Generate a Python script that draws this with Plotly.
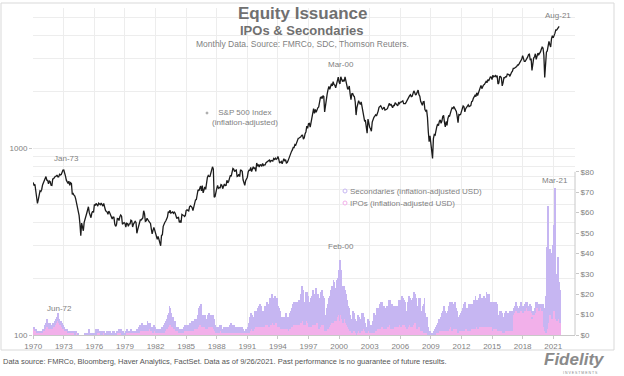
import plotly.graph_objects as go

# ---------------- data ----------------
# S&P 500 index, inflation-adjusted, monthly Jan-1970 .. Aug-2021
SP500 = [
    655, 630, 640, 600, 540, 505, 530, 560, 590, 585, 600, 635,
    652, 657, 680, 703, 673, 672, 643, 665, 660, 632, 630, 683,
    686, 702, 705, 706, 717, 700, 700, 723, 718, 722, 753, 761,
    762, 714, 708, 673, 655, 646, 664, 632, 652, 646, 565, 571,
    560, 553, 535, 508, 487, 476, 436, 393, 340, 397, 372, 361,
    400, 422, 429, 448, 466, 485, 451, 440, 424, 449, 459, 452,
    499, 492, 505, 498, 489, 507, 501, 497, 507, 494, 489, 505,
    477, 465, 457, 455, 442, 460, 451, 440, 437, 417, 427, 426,
    392, 381, 389, 420, 419, 409, 429, 438, 432, 391, 396, 399,
    395, 378, 396, 394, 381, 393, 393, 411, 408, 378, 392, 396,
    405, 400, 350, 366, 381, 389, 412, 412, 419, 423, 462, 446,
    405, 408, 421, 409, 406, 400, 396, 369, 347, 363, 376, 364,
    351, 329, 325, 337, 323, 315, 300, 341, 343, 381, 395, 401,
    407, 414, 427, 457, 450, 465, 448, 452, 455, 447, 454, 449,
    438, 420, 425, 426, 400, 406, 399, 441, 438, 437, 430, 435,
    463, 467, 464, 461, 485, 490, 487, 480, 463, 482, 512, 528,
    530, 567, 598, 590, 620, 626, 589, 630, 576, 607, 619, 601,
    674, 697, 713, 703, 705, 735, 768, 793, 771, 545, 549, 588,
    607, 631, 609, 613, 613, 638, 633, 606, 628, 642, 629, 630,
    672, 651, 662, 692, 714, 706, 767, 777, 770, 748, 758, 763,
    704, 708, 724, 703, 765, 756, 750, 676, 638, 631, 668, 684,
    698, 744, 760, 759, 787, 748, 780, 794, 777, 785, 749, 831,
    805, 811, 792, 813, 812, 797, 827, 806, 812, 812, 835, 842,
    842, 849, 863, 840, 857, 856, 851, 878, 868, 883, 870, 877,
    900, 871, 830, 838, 847, 823, 847, 877, 851, 867, 831, 836,
    856, 885, 906, 928, 959, 977, 1007, 1005, 1043, 1036, 1077, 1096,
    1126, 1131, 1136, 1147, 1170, 1171, 1115, 1134, 1193, 1222, 1309, 1274,
    1348, 1354, 1295, 1369, 1448, 1510, 1626, 1531, 1610, 1553, 1621, 1640,
    1657, 1772, 1859, 1873, 1836, 1907, 1883, 1560, 1706, 1840, 1947, 2053,
    2131, 2061, 2138, 2207, 2148, 2263, 2186, 2166, 2097, 2224, 2264, 2394,
    2252, 2199, 2402, 2319, 2265, 2314, 2270, 2404, 2268, 2254, 2071, 2073,
    2145, 1944, 1816, 1950, 1954, 1903, 1886, 1762, 1500, 1647, 1773, 1789,
    1746, 1707, 1764, 1652, 1635, 1517, 1396, 1400, 1244, 1200, 1427, 1341,
    1292, 1267, 1230, 1375, 1443, 1458, 1480, 1504, 1484, 1564, 1575, 1651,
    1667, 1683, 1648, 1614, 1628, 1655, 1597, 1600, 1612, 1628, 1683, 1733,
    1689, 1718, 1680, 1640, 1688, 1687, 1745, 1720, 1718, 1680, 1744, 1726,
    1760, 1758, 1773, 1786, 1726, 1722, 1728, 1760, 1800, 1853, 1880, 1903,
    1927, 1880, 1890, 1964, 2021, 1981, 1917, 1942, 2007, 2040, 1928, 1894,
    1778, 1710, 1693, 1765, 1771, 1604, 1576, 1600, 1458, 1222, 1080, 1162,
    1065, 940, 880, 1122, 1180, 1172, 1260, 1300, 1345, 1318, 1392, 1413,
    1355, 1393, 1474, 1495, 1372, 1298, 1386, 1320, 1434, 1486, 1481, 1566,
    1595, 1640, 1628, 1665, 1635, 1606, 1568, 1475, 1366, 1511, 1502, 1512,
    1575, 1635, 1679, 1662, 1560, 1623, 1644, 1668, 1700, 1664, 1673, 1685,
    1768, 1781, 1843, 1878, 1914, 1882, 1973, 1910, 1965, 2054, 2113, 2162,
    2077, 2164, 2175, 2185, 2228, 2268, 2234, 2319, 2284, 2339, 2400, 2394,
    2324, 2450, 2404, 2421, 2443, 2390, 2437, 2200, 2225, 2410, 2413, 2372,
    2150, 2237, 2378, 2376, 2406, 2401, 2487, 2478, 2470, 2416, 2496, 2541,
    2575, 2662, 2664, 2684, 2716, 2729, 2780, 2775, 2824, 2884, 2960, 2987,
    3120, 2990, 2903, 2903, 2957, 2965, 3070, 3160, 3172, 2947, 3004, 2600,
    2945, 3026, 3077, 3190, 2976, 3177, 3215, 3155, 3206, 3264, 3374, 3460,
    3425, 3134, 2380, 3108, 3255, 3305, 3480, 3719, 3571, 3470, 3841, 3982,
    3881, 3959, 4100, 4280, 4270, 4340, 4420, 4470,
]

# IPO issuance, inflation-adjusted USD bn, monthly Jan-1970 .. Aug-2021
IPO = [
    3, 2, 2, 2, 1, 1, 1, 1, 1, 1, 1, 2,
    2, 3, 4, 4, 5, 4, 3, 4, 3, 3, 3, 4,
    4, 5, 6, 6, 7, 8, 6, 5, 5, 4, 4, 3,
    3, 2, 2, 2, 1, 1, 1, 1, 1, 1, 1, 1,
    1, 0, 1, 0, 0, 0, 0, 0, 0, 0, 0, 0,
    0, 0, 0, 0, 0, 1, 0, 0, 0, 0, 0, 0,
    0, 1, 0, 1, 1, 1, 1, 0, 1, 0, 1, 1,
    0, 0, 1, 0, 1, 0, 1, 0, 0, 1, 0, 1,
    0, 0, 1, 1, 1, 1, 1, 1, 0, 1, 0, 0,
    0, 1, 1, 1, 1, 1, 1, 1, 1, 1, 1, 1,
    1, 1, 1, 1, 1, 2, 2, 2, 3, 2, 2, 2,
    2, 2, 3, 2, 3, 3, 2, 2, 1, 1, 2, 2,
    1, 1, 1, 1, 1, 1, 1, 1, 1, 1, 2, 2,
    3, 3, 4, 5, 6, 6, 5, 4, 4, 3, 3, 3,
    2, 2, 2, 1, 1, 1, 1, 1, 1, 2, 2, 2,
    2, 2, 2, 2, 2, 2, 3, 3, 2, 3, 3, 3,
    3, 4, 4, 5, 5, 6, 4, 4, 4, 4, 4, 3,
    3, 4, 4, 4, 4, 4, 4, 4, 3, 2, 1, 1,
    1, 1, 1, 2, 2, 2, 1, 1, 1, 1, 1, 1,
    1, 1, 1, 1, 2, 1, 1, 1, 2, 1, 1, 1,
    1, 1, 1, 1, 1, 1, 1, 1, 1, 1, 1, 1,
    1, 1, 2, 2, 3, 3, 2, 3, 3, 4, 4, 4,
    4, 4, 5, 4, 5, 4, 4, 4, 5, 5, 5, 6,
    5, 4, 5, 5, 6, 6, 6, 5, 6, 6, 6, 6,
    4, 4, 4, 3, 3, 3, 3, 3, 3, 4, 3, 3,
    2, 3, 3, 4, 4, 5, 5, 5, 5, 5, 5, 5,
    5, 5, 6, 6, 8, 7, 5, 5, 6, 7, 7, 6,
    4, 4, 5, 4, 5, 6, 5, 5, 6, 7, 6, 6,
    3, 4, 5, 6, 6, 5, 5, 2, 2, 3, 3, 4,
    4, 5, 6, 6, 6, 9, 8, 7, 7, 9, 10, 12,
    7, 10, 12, 8, 6, 8, 8, 7, 6, 5, 4, 3,
    2, 2, 2, 1, 2, 3, 2, 1, 0, 1, 2, 2,
    1, 2, 3, 2, 3, 3, 2, 1, 1, 1, 2, 2,
    1, 1, 1, 1, 2, 1, 2, 2, 3, 3, 3, 4,
    3, 4, 4, 4, 3, 4, 4, 3, 4, 4, 5, 5,
    3, 3, 4, 3, 4, 4, 4, 4, 4, 4, 5, 5,
    4, 4, 5, 5, 5, 5, 4, 3, 4, 4, 6, 5,
    4, 4, 5, 5, 6, 6, 6, 3, 4, 5, 5, 4,
    2, 2, 2, 1, 2, 1, 1, 1, 0, 0, 0, 0,
    0, 0, 0, 0, 0, 0, 1, 1, 1, 2, 2, 2,
    2, 2, 2, 3, 2, 3, 2, 2, 2, 3, 4, 4,
    2, 3, 3, 3, 4, 3, 3, 1, 1, 2, 2, 3,
    2, 2, 3, 2, 6, 3, 3, 2, 3, 3, 2, 3,
    3, 3, 3, 3, 4, 4, 4, 3, 4, 5, 4, 4,
    4, 4, 4, 4, 4, 5, 5, 4, 6, 4, 4, 4,
    2, 3, 3, 3, 3, 3, 3, 2, 2, 2, 2, 2,
    1, 1, 1, 2, 2, 2, 2, 2, 2, 2, 2, 2,
    10, 11, 11, 12, 13, 12, 11, 11, 12, 12, 13, 12,
    11, 12, 12, 13, 14, 13, 12, 12, 13, 12, 11, 8,
    10, 10, 11, 13, 14, 14, 13, 12, 13, 13, 12, 12,
    4, 5, 2, 1, 3, 6, 10, 10, 12, 10, 8, 12,
    14, 16, 12, 8, 7, 10, 8, 6,
]

# Secondary issuance, inflation-adjusted USD bn, monthly Jan-1970 .. Aug-2021
SEC = [
    1, 1, 1, 1, 1, 1, 0, 1, 1, 1, 1, 1,
    1, 2, 2, 2, 3, 2, 2, 2, 2, 1, 2, 2,
    2, 2, 2, 2, 2, 3, 2, 2, 2, 2, 2, 2,
    1, 1, 1, 1, 1, 1, 1, 1, 1, 1, 1, 1,
    1, 1, 1, 0, 1, 0, 0, 0, 0, 0, 0, 0,
    1, 1, 1, 1, 1, 2, 1, 1, 1, 1, 1, 1,
    1, 2, 2, 1, 2, 1, 1, 1, 1, 1, 1, 1,
    1, 1, 1, 1, 1, 1, 1, 1, 1, 1, 1, 1,
    1, 1, 1, 1, 2, 1, 1, 2, 1, 1, 1, 1,
    1, 1, 2, 1, 1, 1, 1, 2, 1, 1, 1, 1,
    1, 2, 1, 2, 3, 3, 3, 4, 3, 3, 3, 3,
    3, 3, 4, 3, 3, 3, 2, 2, 2, 2, 3, 2,
    2, 2, 2, 2, 2, 2, 2, 3, 3, 4, 4, 4,
    4, 5, 6, 6, 8, 7, 6, 5, 5, 4, 4, 4,
    2, 2, 2, 2, 2, 2, 1, 2, 2, 2, 3, 3,
    3, 3, 3, 3, 4, 4, 4, 4, 3, 4, 5, 5,
    5, 6, 7, 8, 9, 9, 6, 6, 6, 6, 6, 5,
    5, 6, 7, 6, 6, 6, 6, 6, 5, 3, 2, 2,
    3, 3, 3, 3, 3, 3, 2, 2, 3, 3, 3, 3,
    3, 3, 3, 4, 4, 3, 3, 4, 3, 3, 3, 3,
    2, 2, 3, 3, 3, 3, 2, 2, 1, 1, 2, 2,
    3, 5, 6, 7, 8, 7, 6, 6, 7, 8, 7, 8,
    9, 10, 10, 8, 9, 8, 8, 8, 9, 9, 10, 10,
    10, 11, 13, 11, 12, 14, 12, 12, 13, 12, 12, 12,
    10, 9, 8, 6, 6, 6, 6, 6, 6, 7, 6, 6,
    6, 6, 8, 8, 9, 10, 11, 11, 11, 11, 11, 11,
    12, 12, 14, 14, 16, 15, 11, 11, 13, 14, 14, 13,
    12, 12, 13, 12, 14, 16, 15, 15, 17, 16, 14, 14,
    13, 14, 16, 16, 15, 14, 13, 6, 8, 10, 12, 14,
    14, 14, 16, 18, 17, 18, 18, 15, 16, 18, 18, 20,
    18, 27, 20, 16, 14, 16, 14, 15, 14, 12, 10, 10,
    8, 6, 6, 6, 10, 8, 6, 4, 2, 6, 8, 7,
    7, 6, 8, 8, 8, 6, 4, 3, 3, 4, 6, 5,
    4, 4, 4, 6, 9, 10, 8, 8, 10, 10, 10, 11,
    10, 12, 12, 10, 8, 10, 9, 7, 10, 10, 12, 12,
    10, 11, 11, 9, 10, 10, 10, 9, 10, 10, 12, 12,
    12, 12, 14, 13, 12, 11, 8, 8, 10, 12, 13, 13,
    12, 13, 13, 14, 15, 14, 12, 8, 10, 12, 13, 14,
    10, 10, 12, 14, 16, 10, 8, 8, 4, 2, 2, 2,
    1, 1, 1, 2, 3, 3, 3, 4, 5, 6, 6, 7,
    8, 9, 10, 11, 10, 8, 9, 8, 10, 11, 12, 12,
    12, 13, 12, 12, 12, 10, 9, 5, 5, 7, 8, 8,
    10, 11, 12, 11, 10, 9, 10, 10, 12, 12, 11, 12,
    12, 12, 14, 14, 15, 13, 13, 12, 14, 15, 14, 14,
    14, 14, 15, 14, 14, 16, 15, 12, 14, 12, 12, 12,
    12, 13, 13, 12, 13, 12, 11, 8, 8, 10, 10, 9,
    6, 6, 8, 9, 10, 9, 9, 9, 10, 9, 10, 10,
    2, 2, 2, 2, 3, 2, 2, 2, 2, 2, 3, 2,
    2, 2, 3, 3, 2, 3, 2, 2, 2, 2, 2, 1,
    2, 2, 2, 3, 2, 2, 2, 2, 2, 2, 2, 3,
    6, 8, 5, 18, 40, 57, 30, 28, 30, 22, 32, 32,
    40, 48, 60, 22, 20, 28, 18, 16,
]

YEAR_TICKS = list(range(1970, 2022, 3))
DOLLAR_TICKS = list(range(0, 81, 10))
DOLLAR_LABELS = ["$" + str(v) for v in DOLLAR_TICKS]
LOG_TICKS = [100, 1000]
LOG_MINOR = [200, 300, 400, 500, 600, 700, 800, 900, 2000, 3000, 4000, 5000]

# ---------------- styling ----------------
PINK = "#f2b0ea"
LAV = "#c6b6f2"
GRID = "#ededed"
AXIS = "#c8c8c8"
TXT = "#7f7f7f"
FONT = "Liberation Sans, Arial, sans-serif"


def month_x(n):
    return [1970 + i / 12.0 for i in range(n)]


fig = go.Figure()
fig.add_trace(go.Bar(x=month_x(len(IPO)), y=IPO, width=1 / 12, offset=0,
                     marker=dict(color=PINK, line=dict(width=0)),
                     name="IPOs (inflation-adjusted USD)", yaxis="y"))
fig.add_trace(go.Bar(x=month_x(len(SEC)), y=SEC, width=1 / 12, offset=0,
                     marker=dict(color=LAV, line=dict(width=0)),
                     name="Secondaries (inflation-adjusted USD)", yaxis="y"))
fig.add_trace(go.Scatter(x=month_x(len(SP500)), y=SP500, mode="lines",
                         line=dict(color="#1c1c1c", width=1.3),
                         name="S&P 500 Index", yaxis="y2"))

# plot area: x 33..575 px, y 8..335 px
L, R, T, B = 33, 575, 8, 335
W, H = R - L, B - T


def px(x):
    return (x - L) / W


def py(y):
    return (B - y) / H


fig.update_layout(
    width=624, height=376,
    margin=dict(l=L, r=624 - R, t=T, b=376 - B, autoexpand=False),
    paper_bgcolor="white", plot_bgcolor="white",
    barmode="stack", bargap=0, showlegend=False,
    font=dict(family=FONT, size=8, color=TXT),
    xaxis=dict(range=[1969.98, 1970 + W / 10.2], tickvals=YEAR_TICKS,
               ticktext=[str(v) for v in YEAR_TICKS],
               showgrid=True, gridcolor=GRID, gridwidth=1,
               showline=True, linecolor=AXIS, linewidth=1,
               ticks="outside", ticklen=3, tickcolor=AXIS,
               tickfont=dict(size=8, color=TXT), zeroline=False),
    yaxis=dict(range=[0, (B - T) / 2.04], side="right",
               tickvals=DOLLAR_TICKS, ticktext=DOLLAR_LABELS,
               showgrid=False, showline=False, zeroline=False,
               ticks="outside", ticklen=3, tickcolor=AXIS,
               tickfont=dict(size=8, color=TXT)),
    yaxis2=dict(type="log", overlaying="y", side="left",
                range=[2, 3 + (148 - T) / 187],
                tickvals=LOG_TICKS, ticktext=[str(v) for v in LOG_TICKS],
                showgrid=True, gridcolor=GRID, zeroline=False,
                showline=False, ticks="outside", ticklen=3, tickcolor=AXIS,
                tickfont=dict(size=8, color=TXT),
                minor=dict(tickvals=LOG_MINOR, showgrid=True,
                           gridcolor=GRID, ticks="")),
)

shapes = []
# outer chart frame
shapes.append(dict(type="rect", xref="paper", yref="paper",
                   x0=px(1), x1=px(614), y0=py(350), y1=py(3),
                   line=dict(color="#d9d9d9", width=1), layer="below"))
# right axis line from $0 to $80
shapes.append(dict(type="line", xref="paper", yref="y", x0=1, x1=1,
                   y0=0, y1=80, line=dict(color=AXIS, width=1)))
# legend markers
for yy, col in [(191, LAV), (203, PINK)]:
    shapes.append(dict(type="circle", xref="paper", yref="paper",
                       x0=px(343), x1=px(347), y0=py(yy + 2), y1=py(yy - 2),
                       line=dict(color=col, width=1), fillcolor="white"))
# S&P label marker
shapes.append(dict(type="circle", xref="paper", yref="paper",
                   x0=px(206), x1=px(208), y0=py(114), y1=py(112),
                   line=dict(color="#aaaaaa", width=1), fillcolor="#aaaaaa"))
fig.update_layout(shapes=shapes)

ann = []


def text(x, y, s, size=8, color=TXT, xanchor="center", bold=False, italic=False):
    if bold:
        s = "<b>" + s + "</b>"
    if italic:
        s = "<i>" + s + "</i>"
    ann.append(dict(x=px(x), y=py(y), xref="paper", yref="paper", text=s,
                    showarrow=False, xanchor=xanchor, yanchor="middle",
                    borderpad=0,
                    font=dict(size=size, color=color, family=FONT)))


text(302, 13.5, "Equity Issuance", size=17, color="#707070", bold=True)
text(302, 31, "IPOs & Secondaries", size=13, color="#707070", bold=True)
text(302, 44.5, "Monthly Data. Source: FMRCo, SDC, Thomson Reuters.", size=8.5)
text(66, 158, "Jan-73")
text(341, 65, "Mar-00")
text(558, 15, "Aug-21")
text(341, 246, "Feb-00")
text(555, 180, "Mar-21")
text(59, 308, "Jun-72")
text(211, 118, "S&P 500 Index<br>(inflation-adjusted)", xanchor="left")
text(349, 191, "Secondaries (inflation-adjusted USD)", xanchor="left")
text(349, 203, "IPOs (inflation-adjusted USD)", xanchor="left")
text(2, 361, "Data source: FMRCo, Bloomberg, Haver Analytics, FactSet. Data as of 9/26/2021. "
     "Past performance is no guarantee of future results.", size=7.5, color="#555555",
     xanchor="left")
text(574, 360, "Fidelity", size=17, color="#8a8a8a", bold=True, italic=True)
text(580, 372.5, "I N V E S T M E N T S", size=3.5, color="#8a8a8a")
fig.update_layout(annotations=ann)

fig.write_html("out.html", config={"displayModeBar": False},
               post_script="document.body.style.margin='0';document.body.style.overflow='hidden';")
